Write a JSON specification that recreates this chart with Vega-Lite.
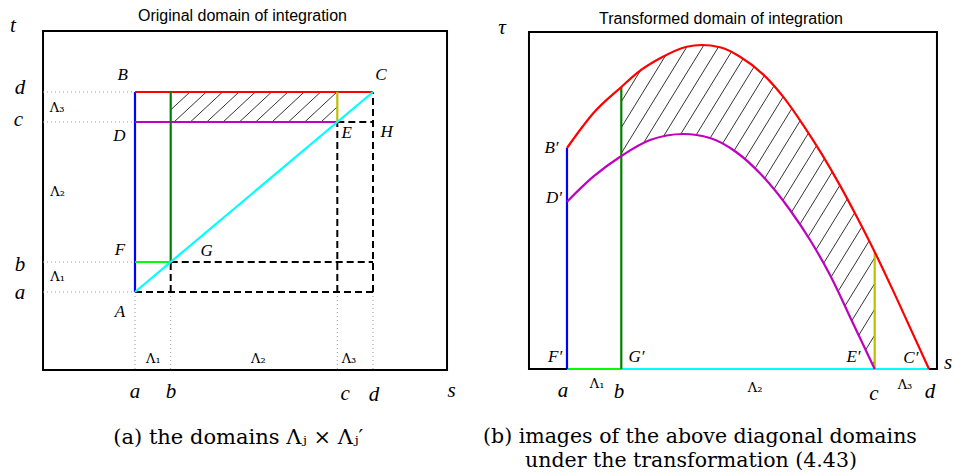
{
  "$schema": "https://vega.github.io/schema/vega-lite/v6.json",
  "background": "white",
  "padding": 0,
  "spacing": 0,
  "config": {"view": {"stroke": null}},
  "resolve": {"scale": {"x": "independent", "y": "independent", "color": "independent"}},
  "hconcat": [
    {
      "width": 477,
      "height": 476,
      "layer": [
        {
          "data": {"values": [{"x1": 2.27, "x2": 36.22, "y1": 2.2, "y2": 36.1}]},
          "mark": {"type": "rect", "filled": false, "stroke": "black", "strokeWidth": 2},
          "encoding": {
            "x": {"field": "x1", "type": "quantitative", "scale": {"domain": [-1.345, 38.739], "nice": false, "zero": false}, "axis": null},
            "x2": {"field": "x2"},
            "y": {"field": "y1", "type": "quantitative", "scale": {"domain": [-8.4, 39.2], "nice": false, "zero": false}, "axis": null},
            "y2": {"field": "y2"}
          }
        },
        {
          "data": {"values": [
            {"x1": 2.27, "y1": 30, "x2": 10, "y2": 30},
            {"x1": 2.27, "y1": 27, "x2": 10, "y2": 27},
            {"x1": 2.27, "y1": 13, "x2": 10, "y2": 13},
            {"x1": 2.27, "y1": 10, "x2": 10, "y2": 10},
            {"x1": 10, "y1": 10, "x2": 10, "y2": 2.2},
            {"x1": 13, "y1": 10, "x2": 13, "y2": 2.2},
            {"x1": 27, "y1": 10, "x2": 27, "y2": 2.2},
            {"x1": 30, "y1": 10, "x2": 30, "y2": 2.2}
          ]},
          "mark": {"type": "rule", "color": "#9a9a9a", "strokeWidth": 1, "strokeDash": [1, 3]},
          "encoding": {
            "x": {"field": "x1", "type": "quantitative", "scale": {"domain": [-1.345, 38.739], "nice": false, "zero": false}, "axis": null},
            "x2": {"field": "x2"},
            "y": {"field": "y1", "type": "quantitative", "scale": {"domain": [-8.4, 39.2], "nice": false, "zero": false}, "axis": null},
            "y2": {"field": "y2"}
          }
        },
        {
          "data": {"values": [
            {"x1": 13, "y1": 28.21, "x2": 14.62, "y2": 30},
            {"x1": 13.28, "y1": 27, "x2": 15.99, "y2": 30},
            {"x1": 14.65, "y1": 27, "x2": 17.36, "y2": 30},
            {"x1": 16.03, "y1": 27, "x2": 18.74, "y2": 30},
            {"x1": 17.4, "y1": 27, "x2": 20.11, "y2": 30},
            {"x1": 18.77, "y1": 27, "x2": 21.48, "y2": 30},
            {"x1": 20.14, "y1": 27, "x2": 22.85, "y2": 30},
            {"x1": 21.51, "y1": 27, "x2": 24.22, "y2": 30},
            {"x1": 22.89, "y1": 27, "x2": 25.6, "y2": 30},
            {"x1": 24.26, "y1": 27, "x2": 26.97, "y2": 30},
            {"x1": 25.63, "y1": 27, "x2": 27, "y2": 28.52}
          ]},
          "mark": {"type": "rule", "color": "black", "strokeWidth": 0.8},
          "encoding": {
            "x": {"field": "x1", "type": "quantitative", "scale": {"domain": [-1.345, 38.739], "nice": false, "zero": false}, "axis": null},
            "x2": {"field": "x2"},
            "y": {"field": "y1", "type": "quantitative", "scale": {"domain": [-8.4, 39.2], "nice": false, "zero": false}, "axis": null},
            "y2": {"field": "y2"}
          }
        },
        {
          "data": {"values": [
            {"x1": 10, "y1": 10, "x2": 30, "y2": 10},
            {"x1": 13, "y1": 13, "x2": 30, "y2": 13},
            {"x1": 27, "y1": 27, "x2": 30, "y2": 27},
            {"x1": 13, "y1": 10, "x2": 13, "y2": 13},
            {"x1": 27, "y1": 10, "x2": 27, "y2": 27},
            {"x1": 30, "y1": 10, "x2": 30, "y2": 30}
          ]},
          "mark": {"type": "rule", "color": "black", "strokeWidth": 2, "strokeDash": [7, 4]},
          "encoding": {
            "x": {"field": "x1", "type": "quantitative", "scale": {"domain": [-1.345, 38.739], "nice": false, "zero": false}, "axis": null},
            "x2": {"field": "x2"},
            "y": {"field": "y1", "type": "quantitative", "scale": {"domain": [-8.4, 39.2], "nice": false, "zero": false}, "axis": null},
            "y2": {"field": "y2"}
          }
        },
        {
          "data": {"values": [
            {"edge": "AB", "x1": 10, "y1": 10, "x2": 10, "y2": 30},
            {"edge": "BC", "x1": 10, "y1": 30, "x2": 30, "y2": 30},
            {"edge": "DE", "x1": 10, "y1": 27, "x2": 27, "y2": 27},
            {"edge": "Gb", "x1": 13, "y1": 13, "x2": 13, "y2": 30},
            {"edge": "FG", "x1": 10, "y1": 13, "x2": 13, "y2": 13},
            {"edge": "Ec", "x1": 27, "y1": 27, "x2": 27, "y2": 30},
            {"edge": "AC", "x1": 10, "y1": 10, "x2": 30, "y2": 30}
          ]},
          "mark": {"type": "rule", "strokeWidth": 2.2},
          "encoding": {
            "x": {"field": "x1", "type": "quantitative", "scale": {"domain": [-1.345, 38.739], "nice": false, "zero": false}, "axis": null},
            "x2": {"field": "x2"},
            "y": {"field": "y1", "type": "quantitative", "scale": {"domain": [-8.4, 39.2], "nice": false, "zero": false}, "axis": null},
            "y2": {"field": "y2"},
            "color": {"field": "edge", "type": "nominal", "legend": null,
              "scale": {"domain": ["AB", "BC", "DE", "Gb", "FG", "Ec", "AC"], "range": ["#0000ff", "#ff0000", "#bf00bf", "#008000", "#00ff00", "#bfbf00", "#00ffff"]}}
          }
        },
        {
          "data": {"values": [
            {"label": "t", "x": -0.25, "y": 36.6},
            {"label": "d", "x": 0.34, "y": 30.4},
            {"label": "c", "x": 0.21, "y": 27.2},
            {"label": "b", "x": 0.34, "y": 12.7},
            {"label": "a", "x": 0.34, "y": 9.9},
            {"label": "a", "x": 10, "y": 0.0},
            {"label": "b", "x": 13.03, "y": 0.03},
            {"label": "c", "x": 27.65, "y": -0.2},
            {"label": "d", "x": 30.08, "y": -0.3},
            {"label": "s", "x": 36.6, "y": 0.1}
          ]},
          "mark": {"type": "text", "font": "Liberation Serif", "fontStyle": "italic", "fontSize": 21, "align": "center", "baseline": "middle"},
          "encoding": {
            "x": {"field": "x", "type": "quantitative", "scale": {"domain": [-1.345, 38.739], "nice": false, "zero": false}, "axis": null},
            "y": {"field": "y", "type": "quantitative", "scale": {"domain": [-8.4, 39.2], "nice": false, "zero": false}, "axis": null},
            "text": {"field": "label"}
          }
        },
        {
          "data": {"values": [
            {"label": "A", "x": 8.74, "y": 8.03},
            {"label": "B", "x": 8.97, "y": 31.7},
            {"label": "C", "x": 30.67, "y": 31.7},
            {"label": "D", "x": 8.68, "y": 25.6},
            {"label": "E", "x": 27.79, "y": 25.87},
            {"label": "F", "x": 8.74, "y": 14.2},
            {"label": "G", "x": 16.03, "y": 14.13},
            {"label": "H", "x": 31.15, "y": 26.03}
          ]},
          "mark": {"type": "text", "font": "Liberation Serif", "fontStyle": "italic", "fontSize": 17, "align": "center", "baseline": "middle"},
          "encoding": {
            "x": {"field": "x", "type": "quantitative", "scale": {"domain": [-1.345, 38.739], "nice": false, "zero": false}, "axis": null},
            "y": {"field": "y", "type": "quantitative", "scale": {"domain": [-8.4, 39.2], "nice": false, "zero": false}, "axis": null},
            "text": {"field": "label"}
          }
        },
        {
          "data": {"values": [
            {"label": "Λ₃", "x": 3.45, "y": 28.4},
            {"label": "Λ₂", "x": 3.49, "y": 20.03},
            {"label": "Λ₁", "x": 3.49, "y": 11.53},
            {"label": "Λ₁", "x": 11.54, "y": 3.27},
            {"label": "Λ₂", "x": 20.36, "y": 3.27},
            {"label": "Λ₃", "x": 27.98, "y": 3.27}
          ]},
          "mark": {"type": "text", "font": "DejaVu Serif", "fontSize": 13, "align": "center", "baseline": "middle"},
          "encoding": {
            "x": {"field": "x", "type": "quantitative", "scale": {"domain": [-1.345, 38.739], "nice": false, "zero": false}, "axis": null},
            "y": {"field": "y", "type": "quantitative", "scale": {"domain": [-8.4, 39.2], "nice": false, "zero": false}, "axis": null},
            "text": {"field": "label"}
          }
        },
        {
          "data": {"values": [{"label": "Original domain of integration", "x": 19.03, "y": 37.6}]},
          "mark": {"type": "text", "font": "Liberation Sans", "fontSize": 16, "align": "center", "baseline": "middle"},
          "encoding": {
            "x": {"field": "x", "type": "quantitative", "scale": {"domain": [-1.345, 38.739], "nice": false, "zero": false}, "axis": null},
            "y": {"field": "y", "type": "quantitative", "scale": {"domain": [-8.4, 39.2], "nice": false, "zero": false}, "axis": null},
            "text": {"field": "label"}
          }
        },
        {
          "data": {"values": [{"label": "(a)  the domains Λⱼ × Λⱼ′", "x": 18.68, "y": -4.6}]},
          "mark": {"type": "text", "font": "DejaVu Serif", "fontSize": 21, "align": "center", "baseline": "middle"},
          "encoding": {
            "x": {"field": "x", "type": "quantitative", "scale": {"domain": [-1.345, 38.739], "nice": false, "zero": false}, "axis": null},
            "y": {"field": "y", "type": "quantitative", "scale": {"domain": [-8.4, 39.2], "nice": false, "zero": false}, "axis": null},
            "text": {"field": "label"}
          }
        }
      ]
    },
    {
      "width": 477,
      "height": 476,
      "layer": [
        {
          "data": {"values": [
            {"x1": 13, "y1": 26.73, "x2": 15.13, "y2": 33},
            {"x1": 13, "y1": 24.15, "x2": 16.01, "y2": 33},
            {"x1": 13, "y1": 21.57, "x2": 16.89, "y2": 33},
            {"x1": 13, "y1": 18.99, "x2": 17.77, "y2": 33},
            {"x1": 13, "y1": 16.41, "x2": 18.64, "y2": 33},
            {"x1": 13, "y1": 13.83, "x2": 19.52, "y2": 33},
            {"x1": 13, "y1": 11.25, "x2": 20.4, "y2": 33},
            {"x1": 13, "y1": 8.67, "x2": 21.28, "y2": 33},
            {"x1": 13, "y1": 6.09, "x2": 22.15, "y2": 33},
            {"x1": 13, "y1": 3.51, "x2": 23.03, "y2": 33},
            {"x1": 13, "y1": 0.93, "x2": 23.91, "y2": 33},
            {"x1": 13.56, "y1": 0, "x2": 24.79, "y2": 33},
            {"x1": 14.44, "y1": 0, "x2": 25.66, "y2": 33},
            {"x1": 15.32, "y1": 0, "x2": 26.54, "y2": 33},
            {"x1": 16.19, "y1": 0, "x2": 27, "y2": 31.77},
            {"x1": 17.07, "y1": 0, "x2": 27, "y2": 29.19},
            {"x1": 17.95, "y1": 0, "x2": 27, "y2": 26.61},
            {"x1": 18.83, "y1": 0, "x2": 27, "y2": 24.03},
            {"x1": 19.7, "y1": 0, "x2": 27, "y2": 21.45},
            {"x1": 20.58, "y1": 0, "x2": 27, "y2": 18.87},
            {"x1": 21.46, "y1": 0, "x2": 27, "y2": 16.29},
            {"x1": 22.34, "y1": 0, "x2": 27, "y2": 13.71},
            {"x1": 23.21, "y1": 0, "x2": 27, "y2": 11.13},
            {"x1": 24.09, "y1": 0, "x2": 27, "y2": 8.55},
            {"x1": 24.97, "y1": 0, "x2": 27, "y2": 5.97},
            {"x1": 25.85, "y1": 0, "x2": 27, "y2": 3.39},
            {"x1": 26.72, "y1": 0, "x2": 27, "y2": 0.81}
          ]},
          "mark": {"type": "rule", "color": "black", "strokeWidth": 0.8},
          "encoding": {
            "x": {"field": "x1", "type": "quantitative", "scale": {"domain": [5.028, 31.381], "nice": false, "zero": false}, "axis": null},
            "x2": {"field": "x2"},
            "y": {"field": "y1", "type": "quantitative", "scale": {"domain": [-10.7, 36.9], "nice": false, "zero": false}, "axis": null},
            "y2": {"field": "y2"}
          }
        },
        {
          "data": {"name": "red", "values": [
            {"s": 10, "tau": 22.1}, {"s": 10.72, "tau": 23.9}, {"s": 11.45, "tau": 25.57}, {"s": 13, "tau": 28.2},
            {"s": 13.85, "tau": 29.57}, {"s": 15.14, "tau": 31.07}, {"s": 16.61, "tau": 32.23}, {"s": 17.44, "tau": 32.4},
            {"s": 18.45, "tau": 32.17}, {"s": 19.56, "tau": 31.23}, {"s": 20.85, "tau": 29.44}, {"s": 21.95, "tau": 27.21},
            {"s": 23.06, "tau": 24.37}, {"s": 24.07, "tau": 21.51}, {"s": 25.08, "tau": 18.36}, {"s": 26.01, "tau": 15.22},
            {"s": 27, "tau": 11.7}, {"s": 28.22, "tau": 7.04}, {"s": 30, "tau": 0}
          ]},
          "mark": {"type": "area", "interpolate": "monotone", "color": "white", "opacity": 1},
          "encoding": {
            "x": {"field": "s", "type": "quantitative", "scale": {"domain": [5.028, 31.381], "nice": false, "zero": false}, "axis": null},
            "y": {"field": "tau", "type": "quantitative", "scale": {"domain": [-10.7, 36.9], "nice": false, "zero": false}, "axis": null},
            "y2": {"datum": 33.5}
          }
        },
        {
          "data": {"name": "magenta", "values": [
            {"s": 10, "tau": 16.73}, {"s": 11.45, "tau": 19.23}, {"s": 13, "tau": 21.3}, {"s": 14.59, "tau": 22.9},
            {"s": 16.43, "tau": 23.5}, {"s": 17.9, "tau": 23.1}, {"s": 19.38, "tau": 21.65}, {"s": 20.66, "tau": 19.57},
            {"s": 22.32, "tau": 15.9}, {"s": 23.43, "tau": 12.9}, {"s": 24.53, "tau": 9.4}, {"s": 25.82, "tau": 4.5},
            {"s": 27, "tau": 0}
          ]},
          "mark": {"type": "area", "interpolate": "monotone", "color": "white", "opacity": 1},
          "encoding": {
            "x": {"field": "s", "type": "quantitative", "scale": {"domain": [5.028, 31.381], "nice": false, "zero": false}, "axis": null},
            "y": {"field": "tau", "type": "quantitative", "scale": {"domain": [-10.7, 36.9], "nice": false, "zero": false}, "axis": null},
            "y2": {"datum": 0}
          }
        },
        {
          "data": {"values": [{"x1": 7.9, "x2": 30.44, "y1": 0, "y2": 33.7}]},
          "mark": {"type": "rect", "filled": false, "stroke": "black", "strokeWidth": 2},
          "encoding": {
            "x": {"field": "x1", "type": "quantitative", "scale": {"domain": [5.028, 31.381], "nice": false, "zero": false}, "axis": null},
            "x2": {"field": "x2"},
            "y": {"field": "y1", "type": "quantitative", "scale": {"domain": [-10.7, 36.9], "nice": false, "zero": false}, "axis": null},
            "y2": {"field": "y2"}
          }
        },
        {
          "data": {"values": [
            {"edge": "AC", "x1": 10, "y1": 0, "x2": 30, "y2": 0},
            {"edge": "FG", "x1": 10, "y1": 0, "x2": 13, "y2": 0},
            {"edge": "AB", "x1": 10, "y1": 0, "x2": 10, "y2": 22.1},
            {"edge": "Gb", "x1": 13, "y1": 0, "x2": 13, "y2": 28.2},
            {"edge": "Ec", "x1": 27, "y1": 0, "x2": 27, "y2": 11.7}
          ]},
          "mark": {"type": "rule", "strokeWidth": 2.2},
          "encoding": {
            "x": {"field": "x1", "type": "quantitative", "scale": {"domain": [5.028, 31.381], "nice": false, "zero": false}, "axis": null},
            "x2": {"field": "x2"},
            "y": {"field": "y1", "type": "quantitative", "scale": {"domain": [-10.7, 36.9], "nice": false, "zero": false}, "axis": null},
            "y2": {"field": "y2"},
            "color": {"field": "edge", "type": "nominal", "legend": null,
              "scale": {"domain": ["AB", "BC", "DE", "Gb", "FG", "Ec", "AC"], "range": ["#0000ff", "#ff0000", "#bf00bf", "#008000", "#00ff00", "#bfbf00", "#00ffff"]}}
          }
        },
        {
          "data": {"name": "red"},
          "mark": {"type": "line", "interpolate": "monotone", "color": "#ff0000", "strokeWidth": 2.2},
          "encoding": {
            "x": {"field": "s", "type": "quantitative", "scale": {"domain": [5.028, 31.381], "nice": false, "zero": false}, "axis": null},
            "y": {"field": "tau", "type": "quantitative", "scale": {"domain": [-10.7, 36.9], "nice": false, "zero": false}, "axis": null}
          }
        },
        {
          "data": {"name": "magenta"},
          "mark": {"type": "line", "interpolate": "monotone", "color": "#bf00bf", "strokeWidth": 2.2},
          "encoding": {
            "x": {"field": "s", "type": "quantitative", "scale": {"domain": [5.028, 31.381], "nice": false, "zero": false}, "axis": null},
            "y": {"field": "tau", "type": "quantitative", "scale": {"domain": [-10.7, 36.9], "nice": false, "zero": false}, "axis": null}
          }
        },
        {
          "data": {"values": [
            {"label": "τ", "x": 6.41, "y": 34.1},
            {"label": "a", "x": 9.78, "y": -2.2},
            {"label": "b", "x": 12.87, "y": -2.3},
            {"label": "c", "x": 26.96, "y": -2.5},
            {"label": "d", "x": 30.06, "y": -2.3},
            {"label": "s", "x": 31.05, "y": 0.6}
          ]},
          "mark": {"type": "text", "font": "Liberation Serif", "fontStyle": "italic", "fontSize": 21, "align": "center", "baseline": "middle"},
          "encoding": {
            "x": {"field": "x", "type": "quantitative", "scale": {"domain": [5.028, 31.381], "nice": false, "zero": false}, "axis": null},
            "y": {"field": "y", "type": "quantitative", "scale": {"domain": [-10.7, 36.9], "nice": false, "zero": false}, "axis": null},
            "text": {"field": "label"}
          }
        },
        {
          "data": {"values": [
            {"label": "B′", "x": 9.14, "y": 22.1},
            {"label": "D′", "x": 9.28, "y": 17.1},
            {"label": "F′", "x": 9.34, "y": 1.2},
            {"label": "G′", "x": 13.84, "y": 1.2},
            {"label": "E′", "x": 25.83, "y": 1.2},
            {"label": "C′", "x": 29.0, "y": 1.1}
          ]},
          "mark": {"type": "text", "font": "Liberation Serif", "fontStyle": "italic", "fontSize": 17, "align": "center", "baseline": "middle"},
          "encoding": {
            "x": {"field": "x", "type": "quantitative", "scale": {"domain": [5.028, 31.381], "nice": false, "zero": false}, "axis": null},
            "y": {"field": "y", "type": "quantitative", "scale": {"domain": [-10.7, 36.9], "nice": false, "zero": false}, "axis": null},
            "text": {"field": "label"}
          }
        },
        {
          "data": {"values": [
            {"label": "Λ₁", "x": 11.66, "y": -1.5},
            {"label": "Λ₂", "x": 20.39, "y": -1.9},
            {"label": "Λ₃", "x": 28.67, "y": -1.6}
          ]},
          "mark": {"type": "text", "font": "DejaVu Serif", "fontSize": 13, "align": "center", "baseline": "middle"},
          "encoding": {
            "x": {"field": "x", "type": "quantitative", "scale": {"domain": [5.028, 31.381], "nice": false, "zero": false}, "axis": null},
            "y": {"field": "y", "type": "quantitative", "scale": {"domain": [-10.7, 36.9], "nice": false, "zero": false}, "axis": null},
            "text": {"field": "label"}
          }
        },
        {
          "data": {"values": [{"label": "Transformed domain of integration", "x": 18.51, "y": 35.0}]},
          "mark": {"type": "text", "font": "Liberation Sans", "fontSize": 16, "align": "center", "baseline": "middle"},
          "encoding": {
            "x": {"field": "x", "type": "quantitative", "scale": {"domain": [5.028, 31.381], "nice": false, "zero": false}, "axis": null},
            "y": {"field": "y", "type": "quantitative", "scale": {"domain": [-10.7, 36.9], "nice": false, "zero": false}, "axis": null},
            "text": {"field": "label"}
          }
        },
        {
          "data": {"values": [
            {"label": "(b)  images of the above diagonal domains", "x": 5.36, "y": -6.8},
            {"label": "under the transformation (4.43)", "x": 7.68, "y": -9.2}
          ]},
          "mark": {"type": "text", "font": "DejaVu Serif", "fontSize": 20.5, "align": "left", "baseline": "middle"},
          "encoding": {
            "x": {"field": "x", "type": "quantitative", "scale": {"domain": [5.028, 31.381], "nice": false, "zero": false}, "axis": null},
            "y": {"field": "y", "type": "quantitative", "scale": {"domain": [-10.7, 36.9], "nice": false, "zero": false}, "axis": null},
            "text": {"field": "label"}
          }
        }
      ]
    }
  ]
}
